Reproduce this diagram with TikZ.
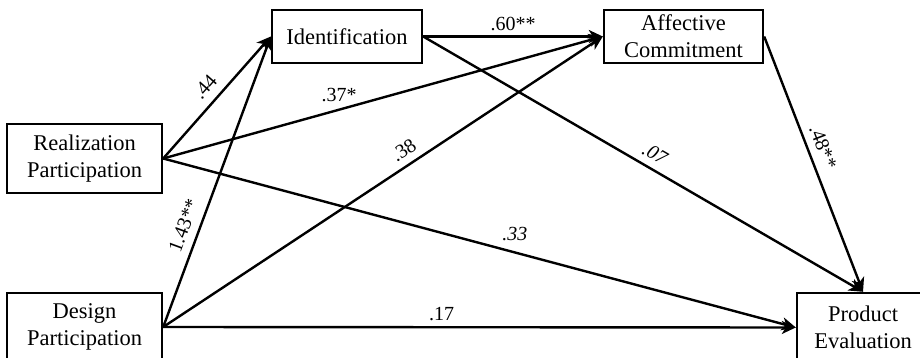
\documentclass[tikz,border=0pt]{standalone}
\usepackage{fontspec}
\setmainfont{Liberation Serif}
\usetikzlibrary{arrows.meta}
\begin{document}
\begin{tikzpicture}[x=1pt,y=-1pt,
  var/.style={draw, line width=2.4pt, rectangle, align=center, inner sep=0pt,
    font=\fontsize{22.5}{27}\selectfont},
  path/.style={line width=2.4pt, -{Stealth[length=14pt,width=13pt,inset=4pt]}},
  coef/.style={font=\fontsize{20}{24}\selectfont, inner sep=2pt}]
\useasboundingbox (0,0) rectangle (920,358);

\node[var, minimum width=150pt, minimum height=53pt] (ident) at (347,36.5) {Identification};
\node[var, minimum width=159pt, minimum height=53pt] (aff) at (683.5,36.5) {Affective\\Commitment};
\node[var, minimum width=155pt, minimum height=69pt] (real) at (84.5,158.5) {Realization\\Participation};
\node[var, minimum width=155pt, minimum height=68pt] (des) at (84.5,327) {Design\\Participation};
\node[var, minimum width=132pt, minimum height=69pt] (prod) at (863,327.5) {Product\\Evaluation};

\draw[path] (real.east) -- node[coef, pos=0.5, sloped, above=6pt] {.44} (ident.west);
\draw[path] (des.east) -- node[coef, pos=0.33, sloped, above=6pt] {1.43**} (ident.west);
\draw[path] (ident.east) -- node[coef, pos=0.5, above=3pt] {.60**} (aff.west);
\draw[path] (real.east) -- node[coef, pos=0.4, above=5pt] {.37*} (aff.west);
\draw[path] (des.east) -- node[coef, pos=0.566, sloped, above=5pt] {.38} (aff.west);
\draw[path] (ident.east) -- node[coef, pos=0.51, sloped, above=5pt] {\itshape .07} (prod.north);
\draw[path] (aff.east) -- node[coef, pos=0.455, sloped, above=5pt] {.48**} (prod.north);
\draw[path] (real.east) -- node[coef, pos=0.556, above=8pt] {\itshape .33} (prod.west);
\draw[path] (des.east) -- node[coef, pos=0.44, above=3pt] {.17} (prod.west);
\end{tikzpicture}
\end{document}
